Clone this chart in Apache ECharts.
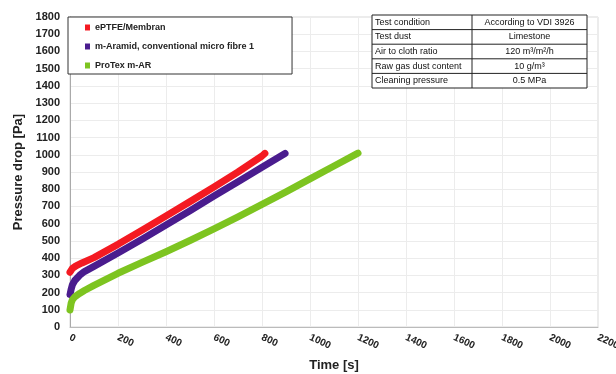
<!DOCTYPE html>
<html>
<head>
<meta charset="utf-8">
<script src="https://cdn.jsdelivr.net/npm/echarts@6/dist/echarts.min.js"></script>
<style>html,body{margin:0;padding:0;background:#fff}#c{width:616px;height:374px}</style>
</head>
<body>
<div id="c"></div>
<script>
var seriesNames = ['ePTFE/Membran', 'm-Aramid, conventional micro fibre 1', 'ProTex m-AR'];
var timeRed = [0, 10, 25, 50, 100, 200, 300, 400, 500, 600, 700, 800, 812];
var red = [318, 340, 355, 372, 403, 480, 562, 645, 728, 813, 900, 993, 1008];
var timePurple = [0, 5, 10, 20, 40, 60, 100, 200, 300, 400, 500, 600, 700, 800, 896];
var purple = [188, 220, 245, 270, 300, 322, 352, 430, 510, 592, 675, 760, 843, 927, 1008];
var timeGreen = [0, 5, 10, 20, 40, 60, 100, 200, 300, 400, 500, 600, 700, 800, 900, 1000, 1100, 1200];
var green = [99, 140, 158, 175, 195, 212, 242, 312, 375, 437, 502, 570, 640, 712, 785, 860, 935, 1010];
var tableLeft = ['Test condition', 'Test dust', 'Air to cloth ratio', 'Raw gas dust content', 'Cleaning pressure'];
var tableRight = ['According to VDI 3926', 'Limestone', '120 m³/m²/h', '10 g/m³', '0.5 MPa'];

function pairs(t, v) { return t.map(function (x, i) { return [x, v[i]]; }); }

var colors = ['#f41a22', '#4a1c8e', '#7dc420'];
var font = 'Liberation Sans, Arial, sans-serif';

var tX = 372, tW = 215, tDiv = 472, tY = 15, rowH = 14.6;
var g = [];
g.push({type: 'rect', shape: {x: tX, y: tY, width: tW, height: rowH * 5}, style: {fill: '#fff', stroke: '#222', lineWidth: 1}, z: 10});
g.push({type: 'line', shape: {x1: tDiv, y1: tY, x2: tDiv, y2: tY + rowH * 5}, style: {stroke: '#222', lineWidth: 1}, z: 11});
for (var i = 1; i < 5; i++) {
  g.push({type: 'line', shape: {x1: tX, y1: tY + rowH * i, x2: tX + tW, y2: tY + rowH * i}, style: {stroke: '#222', lineWidth: 1}, z: 11});
}
tableLeft.forEach(function (s, i) {
  g.push({type: 'text', x: tX + 3, y: tY + rowH * i + rowH / 2, style: {text: s, font: '9px ' + font, fill: '#111', verticalAlign: 'middle'}, z: 12});
});
tableRight.forEach(function (s, i) {
  g.push({type: 'text', x: (tDiv + tX + tW) / 2, y: tY + rowH * i + rowH / 2, style: {text: s, font: '9px ' + font, fill: '#111', align: 'center', verticalAlign: 'middle'}, z: 12});
});

var lineStyle = {width: 7, cap: 'round', join: 'round'};
var chart = echarts.init(document.getElementById('c'), null, {renderer: 'canvas'});
chart.setOption({
  animation: false,
  backgroundColor: '#fff',
  color: colors,
  grid: {left: 70, right: 18, top: 17, bottom: 47, show: true, borderColor: '#d8d8d8', borderWidth: 1, containLabel: false, outerBoundsMode: 'none'},
  legend: {
    left: 68, top: 17, orient: 'vertical',
    padding: [6, 38, 4, 17],
    itemGap: 10, itemWidth: 5, itemHeight: 6, icon: 'rect',
    borderColor: '#333', borderWidth: 1, backgroundColor: '#fff',
    textStyle: {fontSize: 9, fontWeight: 'bold', color: '#222', fontFamily: font},
    data: seriesNames
  },
  xAxis: {
    type: 'value', min: 0, max: 2200, interval: 200,
    name: 'Time [s]', nameLocation: 'middle', nameGap: 32,
    nameTextStyle: {fontSize: 13, fontWeight: 'bold', color: '#222', fontFamily: font},
    axisLine: {show: true, lineStyle: {color: '#bbb'}},
    axisTick: {show: false},
    axisLabel: {rotate: -25, margin: 10, fontSize: 10, fontWeight: 'bold', color: '#222', fontFamily: font, showMaxLabel: true,
      formatter: function (v) { return String(v); }},
    splitLine: {show: true, lineStyle: {color: '#ececec'}}
  },
  yAxis: {
    type: 'value', min: 0, max: 1800, interval: 100,
    name: 'Pressure drop [Pa]', nameLocation: 'middle', nameGap: 34,
    nameTextStyle: {fontSize: 13, fontWeight: 'bold', color: '#222', fontFamily: font},
    axisLine: {show: true, lineStyle: {color: '#aaa'}},
    axisTick: {show: false},
    axisLabel: {margin: 10, fontSize: 11, fontWeight: 'bold', color: '#222', fontFamily: font,
      formatter: function (v) { return String(v); }},
    splitLine: {show: true, lineStyle: {color: '#ececec'}}
  },
  graphic: g,
  series: [
    {name: seriesNames[0], type: 'line', data: pairs(timeRed, red), showSymbol: false, smooth: false, lineStyle: lineStyle, z: 3},
    {name: seriesNames[1], type: 'line', data: pairs(timePurple, purple), showSymbol: false, smooth: false, lineStyle: lineStyle, z: 2},
    {name: seriesNames[2], type: 'line', data: pairs(timeGreen, green), showSymbol: false, smooth: false, lineStyle: lineStyle, z: 2}
  ]
});
</script>
</body>
</html>
